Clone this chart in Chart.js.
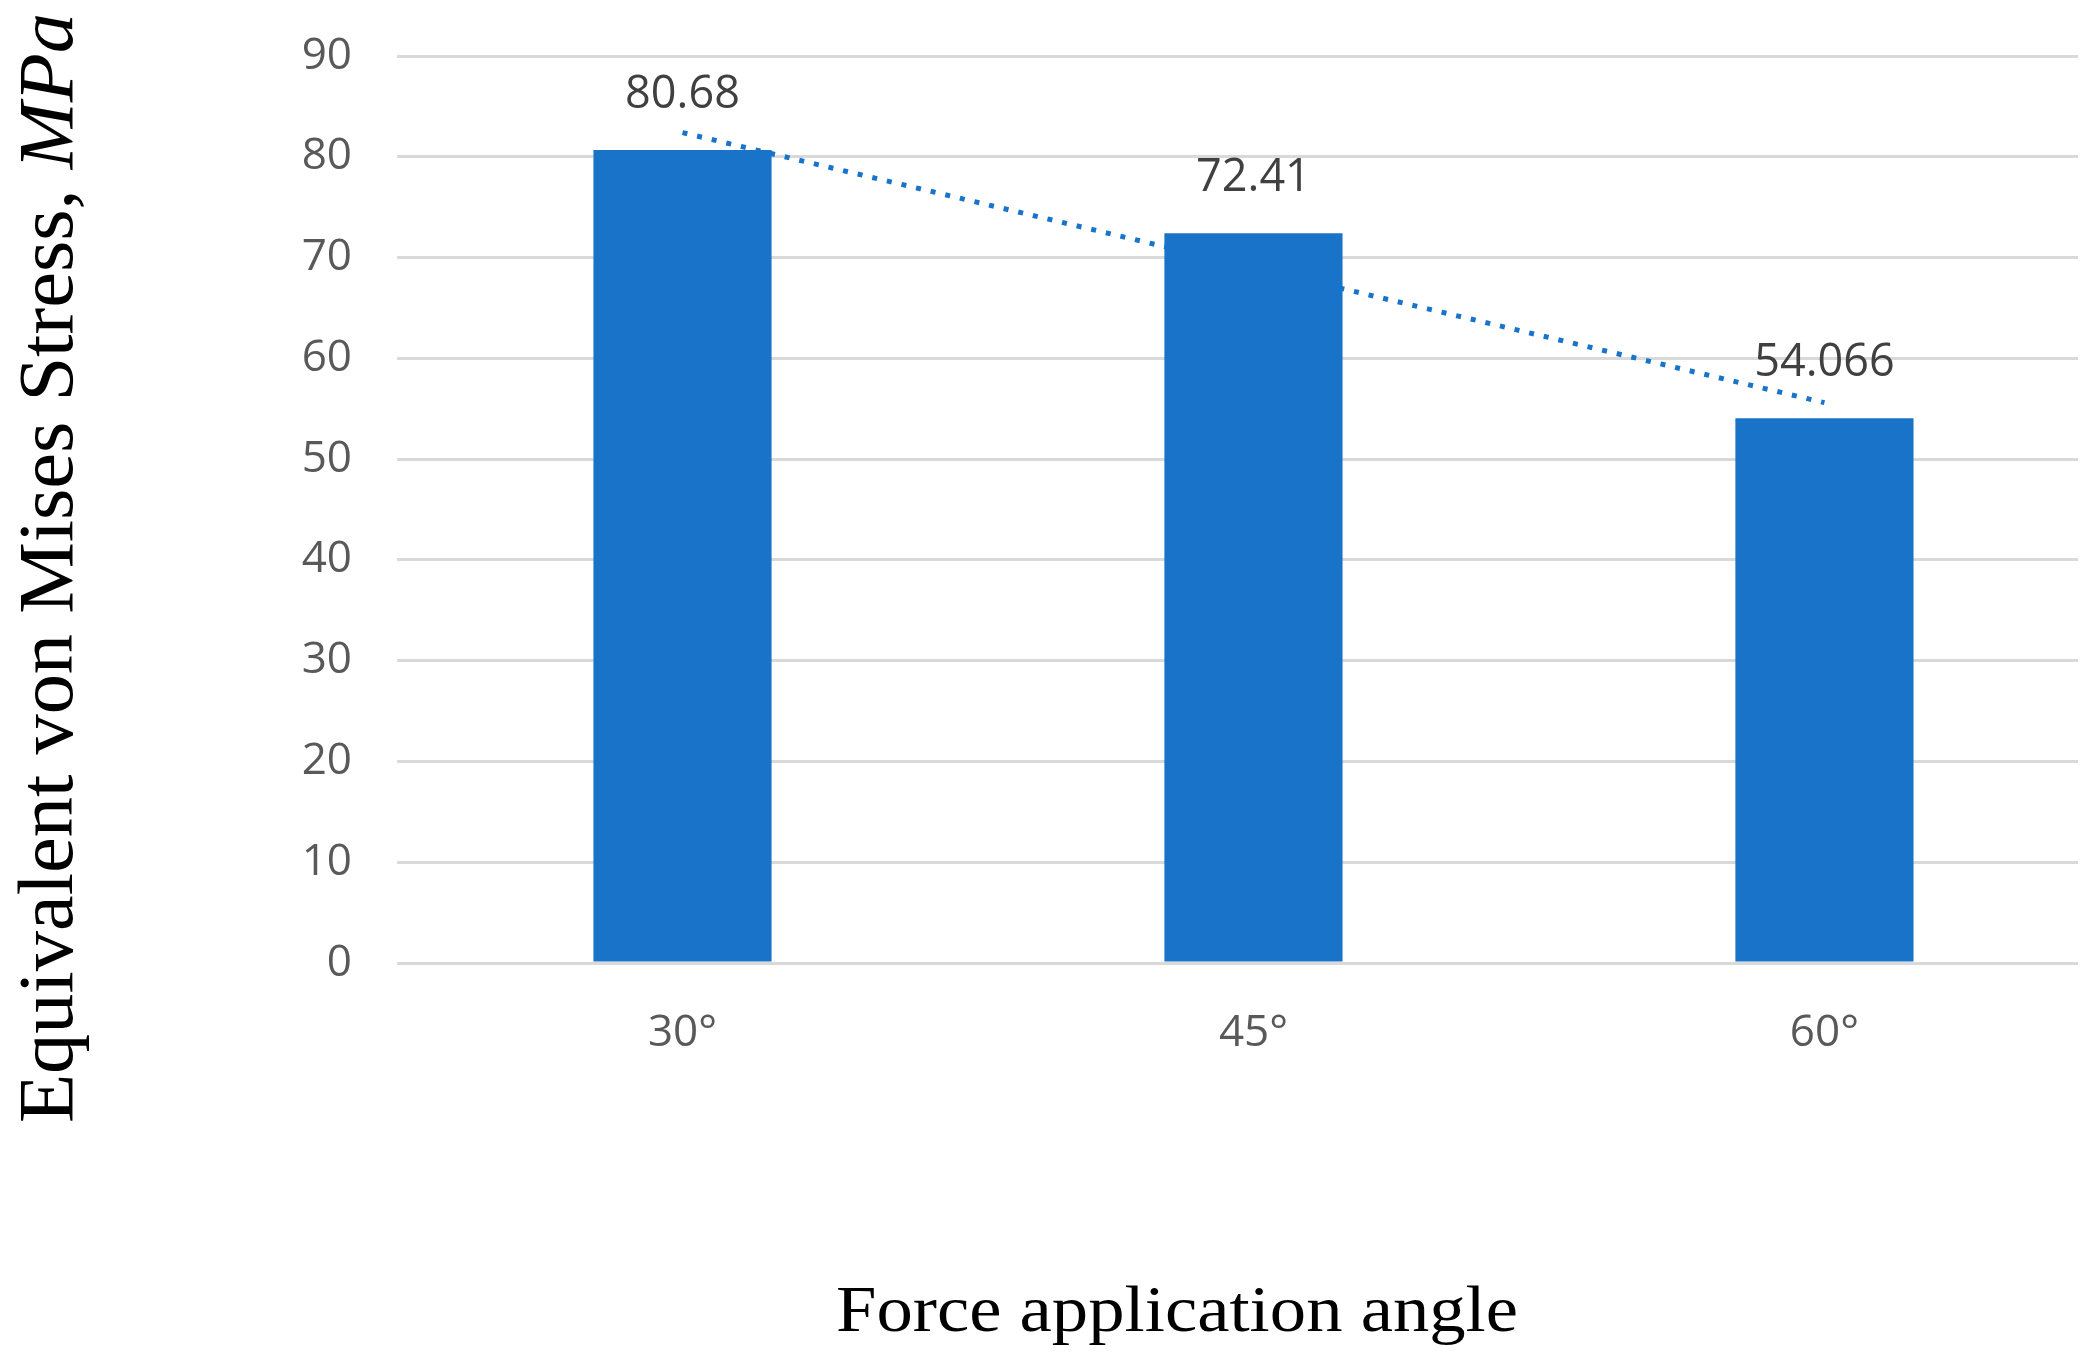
<!DOCTYPE html>
<html>
<head>
<meta charset="utf-8">
<script src="https://cdn.jsdelivr.net/npm/chart.js@4.4.0/dist/chart.umd.min.js"></script>
<style>
  html, body { margin: 0; padding: 0; background: #fff; overflow: hidden; }
  #wrap { width: 2097px; height: 1364px; position: relative; }
</style>
</head>
<body>
<div id="wrap"><canvas id="chart"></canvas></div>
<script>
// data
var angles = ['30°', '45°', '60°'];
var stress = [80.68, 72.41, 54.066];
var trend = [82.4, 69.0, 55.6];   // linear trendline (dotted)
var yTicks = [0, 10, 20, 30, 40, 50, 60, 70, 80, 90];
var yTitle = 'Equivalent von Mises Stress, ';
var yUnit = 'MPa';
var xTitle = 'Force application angle';

var blue = '#1873c9';

// titles, value labels and the slightly wider category band of the original
var extras = {
    id: 'extras',
    afterLayout: function(chart){
        var x = chart.scales.x;
        x.right = x.left + (x.right - x.left) * 1.019;
        x.configure();
    },
    afterDatasetsDraw: function(chart){
        var ctx = chart.ctx;
        var bars = chart.getDatasetMeta(1).data;
        ctx.save();
        ctx.font = '45px "Open Sans"';
        ctx.fillStyle = '#404040';
        ctx.textAlign = 'center';
        ctx.textBaseline = 'middle';
        bars.forEach(function(bar, i){
            ctx.fillText(String(stress[i]), bar.x, bar.y - 55);
        });
        ctx.restore();

        // y axis title, rotated, with italic unit
        ctx.save();
        ctx.fillStyle = '#000';
        ctx.font = '78px "Liberation Serif"';
        var w1 = ctx.measureText(yTitle).width;
        ctx.font = 'italic 78px "Liberation Serif"';
        var w2 = ctx.measureText(yUnit).width;
        var sx = 1110 / (w1 + w2);
        ctx.translate(72, 1123);
        ctx.rotate(-Math.PI / 2);
        ctx.scale(sx, 1);
        ctx.textAlign = 'left';
        ctx.textBaseline = 'alphabetic';
        ctx.font = '78px "Liberation Serif"';
        ctx.fillText(yTitle, 0, 0);
        ctx.font = 'italic 78px "Liberation Serif"';
        ctx.fillText(yUnit, w1, 0);
        ctx.restore();

        // x axis title
        ctx.save();
        ctx.fillStyle = '#000';
        ctx.font = '66px "Liberation Serif"';
        var w = ctx.measureText(xTitle).width;
        ctx.translate(1177, 1331);
        ctx.scale(682 / w, 1);
        ctx.textAlign = 'center';
        ctx.textBaseline = 'alphabetic';
        ctx.fillText(xTitle, 0, 0);
        ctx.restore();
    }
};

new Chart(document.getElementById('chart'), {
    type: 'bar',
    data: {
        labels: angles,
        datasets: [
            {
                type: 'line',
                label: 'Trend',
                data: trend,
                borderColor: blue,
                borderWidth: 5,
                borderDash: [5, 10],
                pointRadius: 0,
                fill: false,
                tension: 0,
                order: 2
            },
            {
                label: 'Equivalent von Mises Stress',
                data: stress,
                backgroundColor: blue,
                borderWidth: 0,
                barPercentage: 0.312,
                categoryPercentage: 1,
                order: 1
            }
        ]
    },
    options: {
        responsive: true,
        maintainAspectRatio: false,
        animation: false,
        devicePixelRatio: 1,
        layout: { padding: { top: 56, right: 19, bottom: 0, left: 0 } },
        plugins: { legend: { display: false }, tooltip: { enabled: false } },
        scales: {
            x: {
                grid: { display: false, drawTicks: false },
                border: { display: false },
                ticks: {
                    color: '#595959',
                    font: { family: 'Open Sans', size: 44 },
                    padding: 44,
                    maxRotation: 0
                },
                afterFit: function(s){ s.height = 401; }
            },
            y: {
                min: 0,
                max: 90,
                afterBuildTicks: function(s){ s.ticks = yTicks.map(function(v){ return { value: v }; }); },
                grid: { color: '#d9d9d9', lineWidth: 3, drawTicks: false },
                border: { display: false },
                ticks: {
                    color: '#595959',
                    font: { family: 'Open Sans', size: 44 },
                    padding: 45
                },
                afterFit: function(s){
                    s.width = 397;
                    s.paddingTop = 0;
                    s.paddingBottom = 0;
                }
            }
        }
    },
    plugins: [extras]
});
</script>
</body>
</html>
